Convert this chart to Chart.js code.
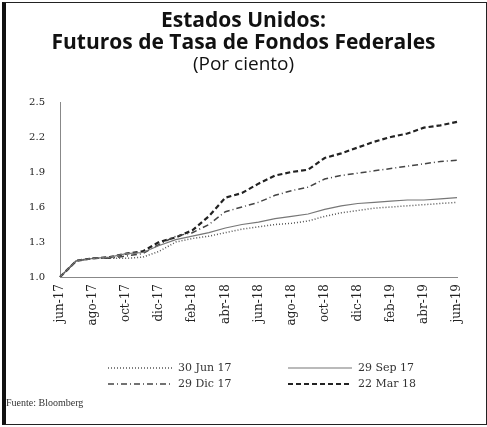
<!DOCTYPE html>
<html>
<head>
<meta charset="utf-8">
<script src="https://cdn.jsdelivr.net/npm/chart.js@4.4.0/dist/chart.umd.min.js"></script>
<style>
  body { margin: 0; background: #fff; }
  #wrap { position: relative; width: 487px; height: 427px; overflow: hidden; }
  #box { position: absolute; left: 0; top: 0; width: 487px; height: 427px; }
  #frame { position: absolute; left: 2px; top: 2px; width: 480px; height: 421px;
           border: 1px solid #222; border-left: 4px solid #111; pointer-events: none; }
  .leg { position: absolute; font: 11px "DejaVu Serif", serif; color: #333; }
  .leg svg { position: absolute; left: 0; top: 0; }
  .leg span { position: absolute; left: 70px; top: -1px; white-space: nowrap; }
  #src { position: absolute; left: 6px; top: 397px; font: 10px "Liberation Serif", serif; color: #333; }
</style>
</head>
<body>
<div id="wrap">
  <div id="box"><canvas id="chart"></canvas></div>
  <div id="frame"></div>
  <div class="leg" style="left:108px;top:362px;width:140px;height:14px">
    <svg width="66" height="12"><line x1="0" y1="6" x2="64" y2="6" stroke="#555" stroke-width="1.5" stroke-dasharray="1,2"/></svg>
    <span>30 Jun 17</span></div>
  <div class="leg" style="left:288px;top:362px;width:140px;height:14px">
    <svg width="66" height="12"><line x1="0" y1="6" x2="64" y2="6" stroke="#777" stroke-width="1.2"/></svg>
    <span>29 Sep 17</span></div>
  <div class="leg" style="left:108px;top:378px;width:140px;height:14px">
    <svg width="66" height="12"><line x1="0" y1="6" x2="64" y2="6" stroke="#444" stroke-width="1.5" stroke-dasharray="6,3,1,3"/></svg>
    <span>29 Dic 17</span></div>
  <div class="leg" style="left:288px;top:378px;width:140px;height:14px">
    <svg width="66" height="12"><line x1="0" y1="6" x2="64" y2="6" stroke="#222" stroke-width="2.2" stroke-dasharray="5,3"/></svg>
    <span>22 Mar 18</span></div>
  <div id="src">Fuente: Bloomberg</div>
</div>
<script>
// meses de los contratos
var months = ['jun-17','jul-17','ago-17','sep-17','oct-17','nov-17','dic-17',
              'ene-18','feb-18','mar-18','abr-18','may-18','jun-18','jul-18',
              'ago-18','sep-18','oct-18','nov-18','dic-18','ene-19','feb-19',
              'mar-19','abr-19','may-19','jun-19'];

var jun17 = [1.00,1.14,1.16,1.16,1.16,1.17,1.22,1.30,1.33,1.35,1.38,1.41,1.43,
             1.45,1.46,1.48,1.52,1.55,1.57,1.59,1.60,1.61,1.62,1.63,1.64];
var sep17 = [1.00,1.14,1.16,1.17,1.20,1.21,1.27,1.32,1.35,1.38,1.42,1.45,1.47,
             1.50,1.52,1.54,1.58,1.61,1.63,1.64,1.65,1.66,1.66,1.67,1.68];
var dic17 = [1.00,1.14,1.16,1.16,1.18,1.20,1.28,1.35,1.38,1.45,1.56,1.60,1.64,
             1.70,1.74,1.77,1.84,1.87,1.89,1.91,1.93,1.95,1.97,1.99,2.00];
var mar18 = [1.00,1.14,1.16,1.17,1.20,1.22,1.30,1.34,1.40,1.52,1.68,1.72,1.80,
             1.87,1.90,1.92,2.02,2.06,2.11,2.16,2.20,2.23,2.28,2.30,2.33];

var yTicks = [1.0, 1.3, 1.6, 1.9, 2.2, 2.5];

var ctx = document.getElementById('chart');
var myChart = new Chart(ctx, {
  type: 'line',
  data: {
    labels: months,
    datasets: [
      { label: '30 Jun 17', data: jun17, borderColor: '#555', borderWidth: 1.5, borderDash: [1, 2] },
      { label: '29 Sep 17', data: sep17, borderColor: '#777', borderWidth: 1.2 },
      { label: '29 Dic 17', data: dic17, borderColor: '#444', borderWidth: 1.5, borderDash: [6, 3, 1, 3] },
      { label: '22 Mar 18', data: mar18, borderColor: '#222', borderWidth: 2.2, borderDash: [5, 3] }
    ]
  },
  options: {
    responsive: true,
    maintainAspectRatio: false,
    animation: false,
    elements: { point: { radius: 0 }, line: { tension: 0, fill: false } },
    layout: { padding: { top: 2, right: 0, bottom: 80, left: 0 } },
    plugins: {
      legend: { display: false },
      tooltip: { enabled: false },
      title: {
        display: true,
        text: ['Estados Unidos:', 'Futuros de Tasa de Fondos Federales'],
        color: '#111',
        font: { family: 'Open Sans', size: 21, weight: 'bold', lineHeight: 1.05 },
        padding: { top: 8, bottom: 0 }
      },
      subtitle: {
        display: true,
        text: '(Por ciento)',
        color: '#111',
        font: { family: 'Open Sans', size: 19, lineHeight: 1.1 },
        padding: { top: 0, bottom: 27 }
      }
    },
    scales: {
      x: {
        offset: false,
        grid: { display: false, drawTicks: false },
        border: { display: true, color: '#888', dash: [1, 2] },
        afterFit: function (s) { s.height = 70; },
        ticks: {
          autoSkip: false,
          minRotation: 90,
          maxRotation: 90,
          padding: 7,
          color: '#222',
          font: { family: 'DejaVu Serif', size: 12 },
          callback: function (v, i) { return i % 2 === 0 ? months[i] : ''; }
        }
      },
      y: {
        min: 1.0,
        max: 2.5,
        grid: { display: false, drawTicks: false },
        border: { display: true, color: '#888', dash: [1, 2] },
        afterFit: function (s) { s.width = 60; },
        afterBuildTicks: function (s) { s.ticks = yTicks.map(function (v) { return { value: v }; }); },
        ticks: {
          padding: 15,
          color: '#222',
          font: { family: 'DejaVu Serif', size: 10 },
          callback: function (v) { return Number(v).toFixed(1); }
        }
      },
      // eje vacio a la derecha: deja el margen sin descentrar el titulo
      yR: {
        position: 'right',
        min: 0,
        max: 1,
        grid: { display: false, drawTicks: false },
        border: { display: false },
        ticks: { display: false },
        afterFit: function (s) { s.width = 30; }
      }
    }
  }
});
</script>
</body>
</html>
